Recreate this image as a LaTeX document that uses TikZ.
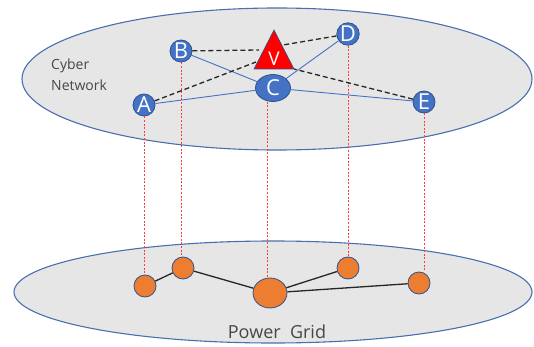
\documentclass[tikz,border=0pt]{standalone}
\usepackage{fontspec}
\usetikzlibrary{shapes.geometric}
\setmainfont{Open Sans}
\begin{document}
\begin{tikzpicture}[x=1pt,y=-1pt,
  layer/.style={draw=layerblue,line width=1.1pt,fill=layergray},
  cyber/.style={circle,draw=nodeedge,line width=0.8pt,fill=nodeblue,text=white,
    inner sep=0pt,minimum size=22pt,font=\fontsize{22}{22}\selectfont},
  grid/.style={circle,draw=nodeedge,line width=0.8pt,fill=gridorange,
    inner sep=0pt,minimum size=22pt},
  link/.style={draw=nodeblue,line width=0.9pt},
  attack/.style={draw=black!85,line width=1.3pt,dash pattern=on 5pt off 3pt},
  wire/.style={draw=black!85,line width=1.3pt},
  couple/.style={draw=couplered,line width=0.7pt,dash pattern=on 2pt off 1.6pt},
  caption/.style={text=black!72,inner sep=0pt}]
\definecolor{layergray}{HTML}{E7E6E6}
\definecolor{layerblue}{HTML}{4A6FAE}
\definecolor{nodeblue}{HTML}{4472C4}
\definecolor{nodeedge}{HTML}{2F528F}
\definecolor{gridorange}{HTML}{ED7D31}
\definecolor{couplered}{HTML}{FF3B3B}
\useasboundingbox (0,0) rectangle (534,347);

% the two layers
\draw[layer] (277,79) ellipse [x radius=255, y radius=71];
\draw[layer] (273,292) ellipse [x radius=259, y radius=51];

\node[caption,font=\fontsize{14}{21}\selectfont,align=left,anchor=base west] (cn) at (51,91) {Cyber\\Network};
\node[caption,font=\fontsize{18}{18}\selectfont,anchor=base] (pg) at (277,338) {Power\ \ Grid};

% power grid buses
\node[grid] (a) at (145,286) {};
\node[grid] (b) at (183,268) {};
\node[grid,ellipse,minimum width=34pt,minimum height=30pt] (c) at (270,293) {};
\node[grid] (d) at (348,268) {};
\node[grid] (e) at (419,283) {};
\draw[wire] (a) -- (b);
\draw[wire] (b) -- (c);
\draw[wire] (c) -- (d);
\draw[wire] (c) -- (e);

% cyber nodes
\node[cyber] (A) at (144,105) {A};
\node[cyber] (B) at (181,51) {B};
\node[cyber] (D) at (348,34) {D};
\node[cyber] (E) at (424,102) {E};
\node[cyber,ellipse,minimum width=35pt,minimum height=27pt] (C) at (273,88) {C};

% coupling between layers
\draw[couple] (A.south) -- (A.south |- a.north);
\draw[couple] (B.south) -- (B.south |- b.north);
\draw[couple] ([xshift=-6pt]C.south) -- ([xshift=-6pt]C.south |- c.north);
\draw[couple] (D.south) -- (D.south |- d.north);
\draw[couple] (E.south) -- (E.south |- e.north);

% communication links
\draw[link] (A) -- (C);
\draw[link] (B) -- (C);
\draw[link] (C) -- (D);
\draw[link] (C) -- (E);

% attacker and its reach
\coordinate (tA) at (274,30);
\coordinate (tR) at (294,69);
\coordinate (tL) at (254,69);
\coordinate (va) at (256,62);
\coordinate (vb) at (259,50);
\coordinate (vd) at (283,45);
\coordinate (ve) at (294,69);
\draw[attack] (A) -- (va);
\draw[attack] (B) -- (vb);
\draw[attack] (D) -- (vd);
\draw[attack] (E) -- (ve);
\filldraw[fill=red,draw=nodeedge,line width=0.6pt] (tA) -- (tR) -- (tL) -- cycle;
\node[text=white,font=\fontsize{19}{19}\selectfont,inner sep=0pt] (V) at (274,59) {V};
\end{tikzpicture}
\end{document}
